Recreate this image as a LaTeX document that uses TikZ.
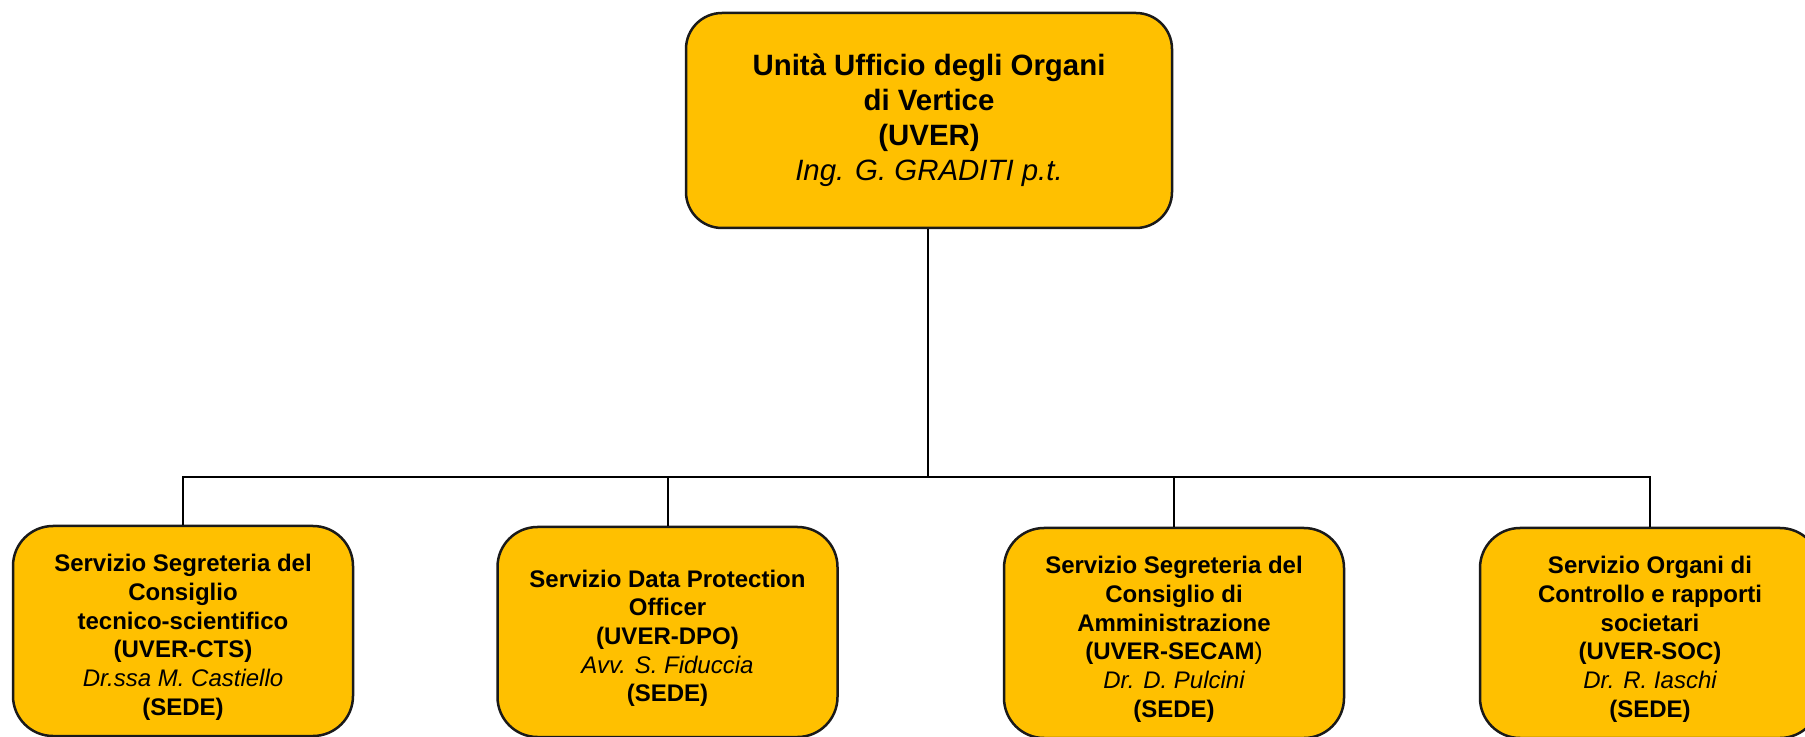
\documentclass[tikz,border=0pt]{standalone}
\usepackage{fontspec}
\setmainfont{Liberation Sans}
\usepackage{xcolor}
\definecolor{uvergold}{HTML}{FFC000}
\definecolor{uverline}{HTML}{1A1A1A}

\newcommand{\uvertop}{\rule{0pt}{15pt}}

\tikzset{
  unitbox/.style={draw=uverline, line width=1.25pt, fill=uvergold,
    rounded corners=18pt, align=center, inner sep=0pt,
    font=\fontsize{14.7}{17.5}\selectfont\bfseries,
    minimum width=243pt, minimum height=107.5pt},
  servbox/.style={draw=uverline, line width=1.25pt, fill=uvergold,
    rounded corners=20pt, align=center, inner sep=0pt,
    font=\fontsize{12}{14.35}\selectfont\bfseries,
    minimum width=170pt, minimum height=105pt},
  link/.style={line width=1pt, black}
}

\begin{document}
\begin{tikzpicture}[x=0.5pt, y=-0.5pt]
        \clip (0,0) rectangle (1805,737);
        \fill[white] (0,0) rectangle (1805,737);
        \node[unitbox](uver) at (929,120.5) {Unità Ufficio degli Organi\\di Vertice\\(UVER)\\{\normalfont\itshape Ing. G. GRADITI p.t.}};
        \node[servbox](cts) at (183,631) {\uvertop Servizio Segreteria del\\Consiglio\\tecnico-scientifico\\(UVER-CTS)\\{\normalfont\itshape Dr.ssa M. Castiello}\\(SEDE)};
        \node[servbox](dpo) at (667.5,632) {\uvertop Servizio Data Protection\\Officer\\(UVER-DPO)\\{\normalfont\itshape Avv. S. Fiduccia}\\(SEDE)};
        \node[servbox](secam) at (1174,633) {\uvertop Servizio Segreteria del\\Consiglio di\\Amministrazione\\(UVER-SECAM{\normalfont )}\\{\normalfont\itshape Dr. D. Pulcini}\\(SEDE)};
        \node[servbox](soc) at (1650,633) {\uvertop Servizio Organi di\\Controllo e rapporti\\societari\\(UVER-SOC)\\{\normalfont\itshape Dr. R. Iaschi}\\(SEDE)};
        \coordinate(bus) at (928,477);
        \draw[link](uver.south -| bus)--(bus);
        \draw[link](bus)-|(cts.north);
        \draw[link](bus)-|(dpo.north);
        \draw[link](bus)-|(secam.north);
        \draw[link](bus)-|(soc.north);
        \end{tikzpicture}
\end{document}
